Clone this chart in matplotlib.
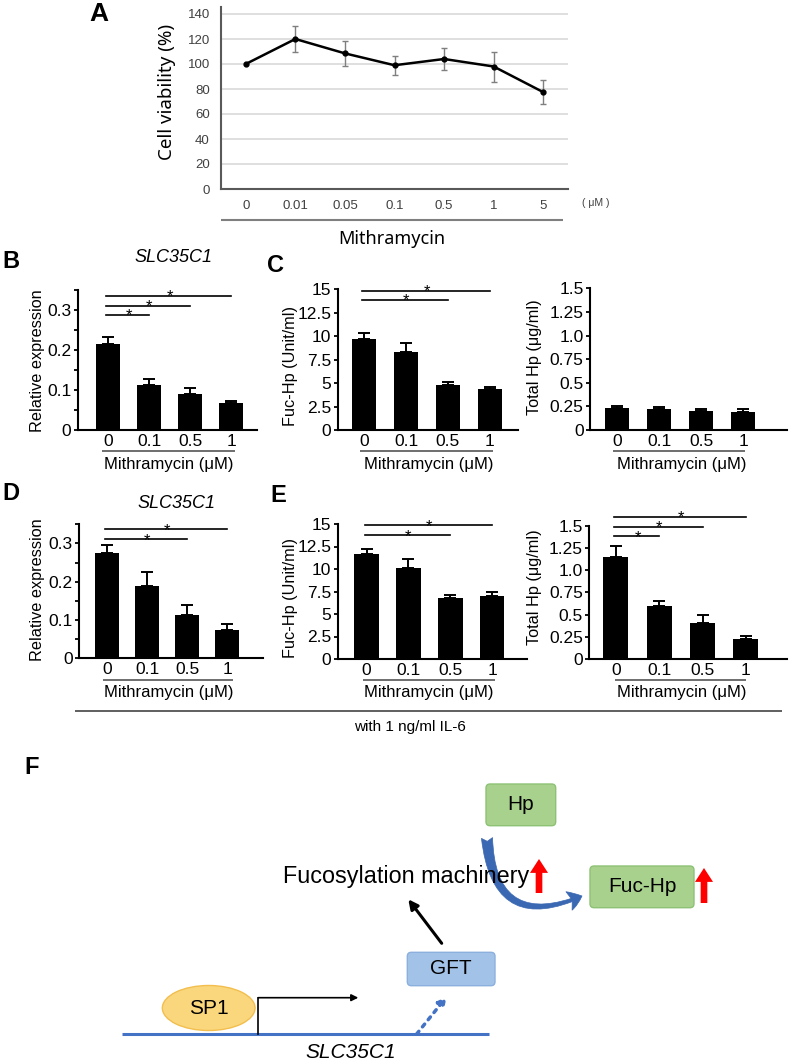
import numpy as np
import matplotlib
matplotlib.use('Agg')
import matplotlib.pyplot as plt
from matplotlib.patches import Ellipse, FancyBboxPatch, FancyArrowPatch

plt.rcParams['font.family'] = ['Liberation Sans', 'DejaVu Sans']

W, H = 790, 1063

# ---- data ----
doses_a = ['0', '0.01', '0.05', '0.1', '0.5', '1', '5']
viability = [100, 120, 108.5, 99, 104, 98, 77.5]
viability_err = [0, 10.5, 10, 7.5, 9, 12, 9.5]

doses = ['0', '0.1', '0.5', '1']

# B, C: without IL-6
slc_b = [0.214, 0.113, 0.090, 0.067]
slc_b_err = [0.019, 0.015, 0.015, 0.006]
fuc_c = [9.67, 8.35, 4.8, 4.4]
fuc_c_err = [0.63, 0.89, 0.35, 0.18]
tot_c = [0.23, 0.219, 0.198, 0.19]
tot_c_err = [0.024, 0.021, 0.021, 0.029]

# D, E: with 1 ng/ml IL-6
slc_d = [0.274, 0.188, 0.112, 0.074]
slc_d_err = [0.021, 0.037, 0.026, 0.015]
fuc_e = [11.63, 10.15, 6.81, 7.04]
fuc_e_err = [0.56, 1.0, 0.26, 0.37]
tot_e = [1.15, 0.596, 0.408, 0.228]
tot_e_err = [0.12, 0.056, 0.082, 0.03]

# significance brackets: (compared dose index, bracket height)
sig_b = [(1, 0.2875), (2, 0.311), (3, 0.335)]
sig_c = [(2, 13.86), (3, 14.85)]
sig_d = [(2, 0.311), (3, 0.337)]
sig_e = [(2, 13.74), (3, 14.85)]
sig_e2 = [(1, 1.38), (2, 1.49), (3, 1.6)]

ticks_rel = ['0', '', '0.1', '', '0.2', '', '0.3', '']
ticks_fuc = ['0', '2.5', '5', '7.5', '10', '12.5', '15']
ticks_tot = ['0', '0.25', '0.5', '0.75', '1.0', '1.25', '1.5']

fig = plt.figure(figsize=(W / 100, H / 100), dpi=100)

# overlay in pixel coordinates for labels, rules and the diagram
ov = fig.add_axes([0, 0, 1, 1])
ov.set_xlim(0, W)
ov.set_ylim(H, 0)
ov.axis('off')


def px_axes(left, top, right, bottom):
    return fig.add_axes([left / W, 1 - bottom / H, (right - left) / W, (bottom - top) / H])


def hline(x1, x2, y, color='#555555', lw=1.2):
    ov.plot([x1, x2], [y, y], color=color, lw=lw, solid_capstyle='butt')


def bar_panel(left, right, y0, ytop, xlim, ymax, step, ylabels, values, errs, sigs):
    ax = px_axes(left, ytop, right, y0)
    x = np.arange(len(doses))
    ax.bar(x, values, width=0.58, color='black', zorder=2)
    ax.errorbar(x, values, yerr=[[0] * len(errs), errs], fmt='none', ecolor='black',
                elinewidth=1.4, capsize=4, capthick=1.4, zorder=1)
    ax.set_xlim(*xlim)
    ax.set_ylim(0, ymax)
    ax.set_yticks(np.arange(0, ymax + step / 2, step))
    ax.set_yticklabels(ylabels)
    ax.set_xticks(x)
    ax.set_xticklabels(doses)
    for s in ['top', 'right']:
        ax.spines[s].set_visible(False)
    for s in ['left', 'bottom']:
        ax.spines[s].set_linewidth(1.5)
    ax.tick_params(axis='y', direction='out', length=3, width=1.3, pad=1.5, labelsize=12.5)
    ax.tick_params(axis='x', length=0, pad=3, labelsize=12.5)
    ax.patch.set_visible(False)
    for k, yv in sigs:
        ax.plot([-0.05, k], [yv, yv], color='black', lw=1.2, clip_on=False)
        ax.annotate('*', (k / 2, yv), xytext=(0, -4), textcoords='offset points',
                    ha='center', va='baseline', fontsize=12, annotation_clip=False)
    return ax


# ---- panel A ----
axA = px_axes(221, 6.5, 568, 189)
xa = np.arange(len(doses_a))
axA.errorbar(xa[1:], viability[1:], yerr=viability_err[1:], fmt='none', ecolor='#7f7f7f',
             elinewidth=1, capsize=2.5, capthick=1, zorder=2)
axA.plot(xa, viability, color='black', lw=1.8, marker='o', ms=3.5, zorder=3)
axA.set_xlim(-0.5, 6.5)
axA.set_ylim(0, 146)
axA.set_yticks(range(0, 141, 20))
axA.set_xticks(xa)
axA.set_xticklabels(doses_a)
axA.yaxis.grid(True, color='#d9d9d9', lw=1.2)
axA.set_axisbelow(True)
for s in ['top', 'right']:
    axA.spines[s].set_visible(False)
for s in ['left', 'bottom']:
    axA.spines[s].set_linewidth(1.5)
    axA.spines[s].set_color('#595959')
axA.tick_params(length=0, labelsize=9.5, colors='#404040')
axA.tick_params(axis='y', pad=8)
axA.tick_params(axis='x', pad=8)

ov.text(99, 14, 'A', fontsize=19, fontweight='bold', ha='center', va='center')
ov.text(167, 92, 'Cell viability (%)', fontsize=13.5, rotation=90, ha='center', va='center',
        family=['Noto Sans', 'DejaVu Sans'])
ov.text(582, 203, '( μM )', fontsize=7.5, ha='left', va='center', color='#404040')
hline(221, 563, 220, color='#7f7f7f', lw=1.5)
ov.text(392, 239, 'Mithramycin', fontsize=13, ha='center', va='center',
        family=['Noto Sans', 'DejaVu Sans'])

# ---- row B / C ----
bar_panel(77.7, 257, 430, 290, (-0.74, 3.63), 0.35, 0.05, ticks_rel, slc_b, slc_b_err, sig_b)
bar_panel(337.7, 518, 430, 289.3, (-0.63, 3.67), 15, 2.5, ticks_fuc, fuc_c, fuc_c_err, sig_c)
bar_panel(590, 787, 430, 288.3, (-0.65, 4.04), 1.5, 0.25, ticks_tot, tot_c, tot_c_err, [])

# ---- row D / E ----
bar_panel(79, 263, 658.3, 524.3, (-0.7, 3.9), 0.35, 0.05, ticks_rel, slc_d, slc_d_err, sig_d)
bar_panel(337.7, 527, 659, 524, (-0.69, 3.83), 15, 2.5, ticks_fuc, fuc_e, fuc_e_err, sig_e)
bar_panel(589, 787, 659, 525.7, (-0.62, 3.95), 1.5, 0.25, ticks_tot, tot_e, tot_e_err, sig_e2)

# labels for bar panels
ov.text(2, 262, 'B', fontsize=17, fontweight='bold', ha='left', va='center')
ov.text(275, 265, 'C', fontsize=17, fontweight='bold', ha='center', va='center')
ov.text(2, 493, 'D', fontsize=17, fontweight='bold', ha='left', va='center')
ov.text(278, 496, 'E', fontsize=17, fontweight='bold', ha='center', va='center')
ov.text(173, 258, 'SLC35C1', fontsize=13, style='italic', ha='center', va='center')
ov.text(176, 503, 'SLC35C1', fontsize=13, style='italic', ha='center', va='center')

for x, y, t in [(38, 361, 'Relative expression'), (290, 366, 'Fuc-Hp (Unit/ml)'),
                (535, 357, 'Total Hp (μg/ml)'), (38, 590, 'Relative expression'),
                (290, 598, 'Fuc-Hp (Unit/ml)'), (534, 587, 'Total Hp (μg/ml)')]:
    ov.text(x, y, t, fontsize=11.7, rotation=90, ha='center', va='center')

for (x1, x2), xc in [((101.7, 235), 169), ((360, 493), 429), ((613, 745), 682)]:
    hline(x1, x2, 450.7)
    ov.text(xc, 465, 'Mithramycin (μM)', fontsize=12, ha='center', va='center')
for (x1, x2), xc in [((103, 233), 169), ((362.7, 495), 429), ((615, 746), 682)]:
    hline(x1, x2, 680)
    ov.text(xc, 693, 'Mithramycin (μM)', fontsize=12, ha='center', va='center')

hline(75, 782, 710.7, color='#444444', lw=1.2)
ov.text(410, 727, 'with 1 ng/ml IL-6', fontsize=11, ha='center', va='center')

# ---- panel F: diagram ----
ov.text(32, 768, 'F', fontsize=17, fontweight='bold', ha='center', va='center')

ov.plot([121.7, 489], [1034, 1034], color='#4472C4', lw=2.2, solid_capstyle='butt')
ov.add_patch(Ellipse((208.7, 1008), 92.7, 45, facecolor='#FAD77C', edgecolor='#F2BE4E', lw=1))
ov.text(208.7, 1008, 'SP1', fontsize=15, ha='center', va='center')
ov.plot([258.3, 258.3], [1034, 997.7], color='black', lw=1.2)
ov.add_patch(FancyArrowPatch((258.3, 997.7), (358.3, 997.7), arrowstyle='-|>',
                             mutation_scale=10, color='black', lw=1.2, shrinkA=0, shrinkB=0))
ov.text(351, 1052, 'SLC35C1', fontsize=15, style='italic', ha='center', va='center')

ov.add_patch(FancyArrowPatch((416.7, 1034), (446.7, 996.7), arrowstyle='-|>', linestyle=':',
                             mutation_scale=12, color='#4472C4', lw=2.5, shrinkA=0, shrinkB=0))
ov.add_patch(FancyBboxPatch((407.3, 952.3), 87.7, 33.4, boxstyle='round,pad=0,rounding_size=4',
                            facecolor='#A3C2E8', edgecolor='#8BB0DE', lw=1))
ov.text(451, 969, 'GFT', fontsize=15, ha='center', va='center')
ov.add_patch(FancyArrowPatch((441.7, 943.3), (408.3, 899.3), arrowstyle='-|>',
                             mutation_scale=14, color='black', lw=2.2, shrinkA=0, shrinkB=0))

ov.text(283, 877, 'Fucosylation machinery', fontsize=16.8, ha='left', va='center')

ov.add_patch(FancyBboxPatch((486, 784), 69.7, 41.7, boxstyle='round,pad=0,rounding_size=4',
                            facecolor='#A9D18E', edgecolor='#8DC274', lw=1))
ov.text(521, 805, 'Hp', fontsize=15, ha='center', va='center')
ov.add_patch(FancyBboxPatch((590, 866), 104, 41.7, boxstyle='round,pad=0,rounding_size=4',
                            facecolor='#A9D18E', edgecolor='#8DC274', lw=1))
ov.text(642, 887, 'Fuc-Hp', fontsize=15, ha='center', va='center')

ov.add_patch(FancyArrowPatch((487, 838), (582, 896), connectionstyle='arc3,rad=0.7',
                             arrowstyle='fancy,head_width=1.4,head_length=1.0,tail_width=0.8',
                             mutation_scale=10, facecolor='#3B68B2', edgecolor='#3B68B2',
                             lw=0.5, shrinkA=0, shrinkB=0))

for x, y1, y2 in [(539, 893, 859), (704, 903, 868)]:
    ov.add_patch(FancyArrowPatch((x, y1), (x, y2),
                                 arrowstyle='simple,head_width=1.3,head_length=1.0,tail_width=0.48',
                                 mutation_scale=10, color='#FF0000', lw=0, shrinkA=0, shrinkB=0))

fig.savefig('out.png', dpi=100)
